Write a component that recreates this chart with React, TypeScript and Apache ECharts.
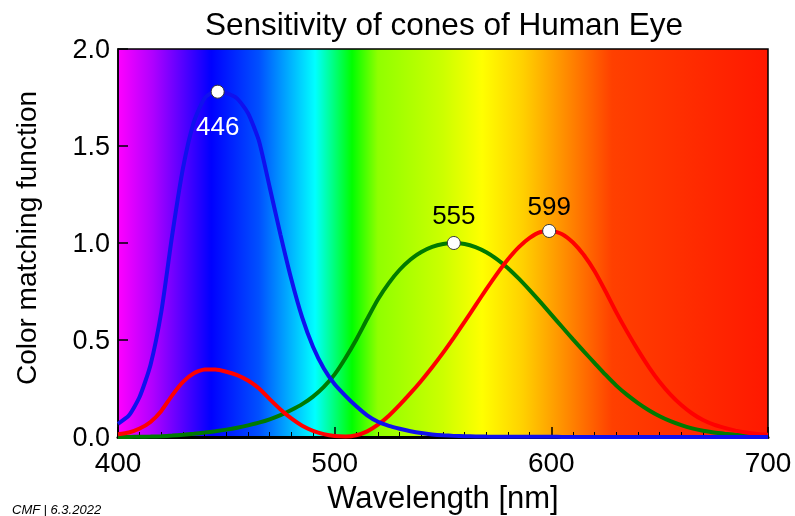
import React, { useEffect, useRef } from "react";
import * as echarts from "echarts";

const wavelengths = [
  400, 405, 410, 415, 420, 425, 430, 435, 440, 445, 450, 455, 460, 465, 470, 475, 480, 485, 490, 495,
  500, 505, 510, 515, 520, 525, 530, 535, 540, 545, 550, 555, 560, 565, 570, 575, 580, 585, 590, 595,
  600, 605, 610, 615, 620, 625, 630, 635, 640, 645, 650, 655, 660, 665, 670, 675, 680, 685, 690, 695, 700,
];

const redValues = [
  0.0143, 0.0232, 0.0435, 0.0776, 0.1344, 0.2148, 0.2839, 0.3285, 0.3483, 0.3481, 0.3362, 0.3187, 0.2908, 0.2511, 0.1954, 0.1421,
  0.0956, 0.058, 0.032, 0.0147, 0.0049, 0.0024, 0.0093, 0.0291, 0.0633, 0.1096, 0.1655, 0.2258, 0.2904, 0.3597,
  0.4335, 0.5121, 0.5945, 0.6784, 0.7621, 0.8425, 0.9163, 0.9786, 1.0263, 1.0567, 1.0622, 1.0456, 1.0026, 0.9384,
  0.8545, 0.7514, 0.6424, 0.5419, 0.4479, 0.3608, 0.2835, 0.2187, 0.1649, 0.1212, 0.0874, 0.0636, 0.0468, 0.0329,
  0.0227, 0.0158, 0.0114,
];

const greenValues = [
  0.0004, 0.0006, 0.0012, 0.0022, 0.004, 0.0073, 0.0116, 0.0168, 0.023, 0.0298, 0.038, 0.048, 0.06, 0.0739, 0.091, 0.1126,
  0.139, 0.1693, 0.208, 0.2586, 0.323, 0.4073, 0.503, 0.6082, 0.71, 0.7932, 0.862, 0.9149, 0.954, 0.9803,
  0.995, 1.0, 0.995, 0.9786, 0.952, 0.9154, 0.87, 0.8163, 0.757, 0.6949, 0.631, 0.5668, 0.503, 0.4412,
  0.381, 0.321, 0.265, 0.217, 0.175, 0.1382, 0.107, 0.0816, 0.061, 0.0446, 0.032, 0.0232, 0.017, 0.0119,
  0.0082, 0.0057, 0.0041,
];

const blueValues = [
  0.0679, 0.1102, 0.2074, 0.3713, 0.6456, 1.0391, 1.3856, 1.623, 1.7471, 1.7826, 1.7721, 1.7441, 1.6692, 1.5281, 1.2876, 1.0419,
  0.813, 0.6162, 0.4652, 0.3533, 0.272, 0.2123, 0.1582, 0.1117, 0.0783, 0.0573, 0.0422, 0.0298, 0.0203, 0.0134,
  0.0088, 0.0058, 0.0039, 0.0028, 0.0021, 0.0018, 0.0017, 0.0014, 0.0011, 0.001, 0.0008, 0.0006, 0.0003, 0.0002,
  0.0002, 0.0001, 0.0001, 0.0, 0.0, 0.0, 0.0, 0.0, 0.0, 0.0, 0.0, 0.0, 0.0, 0.0,
  0.0, 0.0, 0.0,
];

const peakWavelengths = [446, 555, 599];
const peakValues = [1.78, 1.0, 1.062];
const peakLabels = ["446", "555", "599"];

const spectrumWavelengths = [400, 416, 443, 465, 491, 508, 520, 550, 568, 587, 610, 628, 700];
const spectrumColors = [
  "#ff00ff", "#b000ff", "#0000ff", "#0050ff", "#00ffff", "#00ff00", "#90ff00", "#ccff00",
  "#ffff00", "#ffd000", "#ff8000", "#ff4000", "#ff1800",
];

const X_MIN = 400;
const X_MAX = 700;

export default function App() {
  const ref = useRef<HTMLDivElement>(null);

  useEffect(() => {
    if (!ref.current) return;
    const chart = echarts.init(ref.current, null, { renderer: "svg" });
    const font = "Liberation Sans, Arial, sans-serif";

    const zip = (ys: number[]) => wavelengths.map((w, i) => [w, ys[i]]);

    const colorStops = spectrumWavelengths.map((w, i) => ({
      offset: (w - X_MIN) / (X_MAX - X_MIN),
      color: spectrumColors[i],
    }));

    const peakSeries = (i: number, position: string, color: string, dist: number) => ({
      type: "scatter",
      data: [[peakWavelengths[i], peakValues[i]]],
      symbol: "circle",
      symbolSize: 13,
      itemStyle: { color: "#ffffff", borderColor: "#333333", borderWidth: 1, opacity: 1 },
      emphasis: { disabled: true },
      label: {
        show: true,
        formatter: peakLabels[i],
        position,
        distance: dist,
        color,
        fontSize: 26,
        fontFamily: font,
      },
      z: 10,
    });

    const lineSeries = (ys: number[], color: string) => ({
      type: "line",
      data: zip(ys),
      showSymbol: false,
      smooth: 0.2,
      lineStyle: { color, width: 4 },
      itemStyle: { color },
      emphasis: { disabled: true },
    });

    chart.setOption({
      animation: false,
      title: {
        text: "Sensitivity of cones of Human Eye",
        left: 439,
        top: 3,
        textAlign: "center",
        textStyle: { fontFamily: font, fontWeight: "normal", fontSize: 31.5, color: "#000" },
      },
      grid: {
        left: 118,
        right: 27,
        top: 49,
        bottom: 79,
        outerBoundsMode: "none",
        containLabel: false,
        show: true,
        borderColor: "#000",
        borderWidth: 1.5,
        backgroundColor: {
          type: "linear",
          x: 0,
          y: 0,
          x2: 1,
          y2: 0,
          colorStops,
        },
      },
      xAxis: {
        type: "value",
        min: X_MIN,
        max: X_MAX,
        interval: 100,
        name: "Wavelength [nm]",
        nameLocation: "middle",
        nameGap: 45,
        nameTextStyle: { fontFamily: font, fontSize: 31, color: "#000" },
        axisLine: { show: true, lineStyle: { color: "#000", width: 3 } },
        axisTick: { show: true, inside: true, length: 10, lineStyle: { color: "#000", width: 1.5 } },
        minorTick: { show: true, splitNumber: 10, length: 5, lineStyle: { color: "#000", width: 1 } },
        axisLabel: { fontFamily: font, fontSize: 28, lineHeight: 22, color: "#000", margin: 14 },
        splitLine: { show: false },
      },
      yAxis: {
        type: "value",
        min: 0,
        max: 2,
        interval: 0.5,
        name: "Color matching function",
        nameLocation: "middle",
        nameGap: 78,
        nameTextStyle: { fontFamily: font, fontSize: 28, color: "#000", padding: [0, 0, 0, 10] },
        axisLine: { show: true, lineStyle: { color: "#000", width: 1.5 } },
        axisTick: { show: true, inside: true, length: 10, lineStyle: { color: "#000", width: 1.5 } },
        axisLabel: {
          fontFamily: font,
          fontSize: 27,
          lineHeight: 20,
          color: "#000",
          margin: 8,
          formatter: (v: number) => v.toFixed(1),
        },
        splitLine: { show: false },
      },
      graphic: [
        {
          type: "text",
          left: 12,
          top: 503,
          style: {
            text: "CMF | 6.3.2022",
            fontFamily: font,
            fontStyle: "italic",
            fontSize: 13,
            fill: "#000",
          },
        },
      ],
      series: [
        lineSeries(greenValues, "#007a00"),
        lineSeries(redValues, "#ff0000"),
        lineSeries(blueValues, "#1010ee"),
        peakSeries(0, "bottom", "#ffffff", 14),
        peakSeries(1, "top", "#000000", 8),
        peakSeries(2, "top", "#000000", 5),
      ],
    });

    return () => chart.dispose();
  }, []);

  return (
    <div
      ref={ref}
      style={{ position: "fixed", left: 0, top: 0, width: 795, height: 516 }}
    />
  );
}
